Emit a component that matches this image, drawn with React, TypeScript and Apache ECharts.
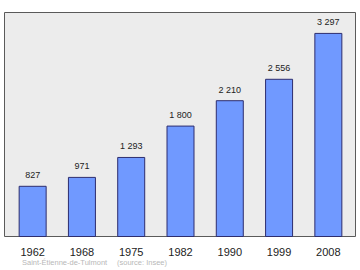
import React, { useEffect, useRef } from "react";
import * as echarts from "echarts";

const years = ["1962", "1968", "1975", "1982", "1990", "1999", "2008"];
const population = [827, 971, 1293, 1800, 2210, 2556, 3297];
const placeName = "Saint-Étienne-de-Tulmont";
const sourceText = "(source: Insee)";

function fmt(v: number): string {
  return String(v).replace(/\B(?=(\d{3})+(?!\d))/g, " ");
}

export default function App() {
  const ref = useRef<HTMLDivElement>(null);
  useEffect(() => {
    if (!ref.current) return;
    const chart = echarts.init(ref.current, null, { renderer: "svg" });
    const font = "Liberation Sans, Arial, sans-serif";
    chart.setOption({
      animation: false,
      backgroundColor: "#ffffff",
      grid: { left: 8, right: 7, top: 12, bottom: 33, containLabel: false },
      graphic: [
        {
          type: "rect",
          z: -10,
          shape: { x: 4.5, y: 12.5, width: 351, height: 224 },
          style: { fill: "#ececec", stroke: "#5a5a5a", lineWidth: 1 },
          silent: true,
        },
        {
          type: "text",
          left: 22,
          top: 258,
          style: { text: placeName, fill: "#b8b8b8", fontSize: 7.5, fontFamily: font },
        },
        {
          type: "text",
          left: 117,
          top: 258,
          style: { text: sourceText, fill: "#b8b8b8", fontSize: 7.5, fontFamily: font },
        },
      ],
      xAxis: {
        type: "category",
        data: years,
        axisLine: { show: false },
        axisTick: { show: false },
        axisLabel: { color: "#222", fontSize: 11, fontFamily: font, margin: 9 },
      },
      yAxis: {
        type: "value",
        min: 0,
        max: 3635,
        show: false,
        splitLine: { show: false },
      },
      series: [
        {
          type: "bar",
          data: population,
          barWidth: 28,
          itemStyle: { color: "#7099ff", borderColor: "#2d2d6e", borderWidth: 1 },
          label: {
            show: true,
            position: "top",
            distance: 6,
            color: "#222",
            fontSize: 9,
            fontFamily: font,
            formatter: (p: any) => fmt(p.value),
          },
        },
      ],
    });
    return () => chart.dispose();
  }, []);
  return <div ref={ref} style={{ width: 360, height: 270, position: "absolute", left: 0, top: 0 }} />;
}
